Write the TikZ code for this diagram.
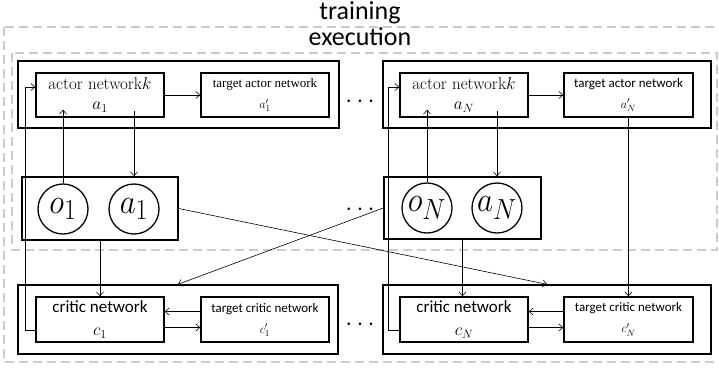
\documentclass[tikz,border=0pt]{standalone}
\usepackage{fontspec}
\newfontfamily\calfont{Carlito}
\newfontfamily\tnrfont{Liberation Serif}
\usetikzlibrary{arrows.meta}
\newcommand{\bigvar}[1]{\scalebox{1.25}[1.4]{$#1$}}

\begin{document}
\begin{tikzpicture}[x=1pt, y=-1pt,
    >={Straight Barb[length=4pt, width=7pt]},
    box/.style={draw, line width=1.4pt, inner sep=0pt},
    net/.style={box, minimum width=128pt, minimum height=44pt, align=center},
    var/.style={draw, circle, line width=1.3pt, minimum size=50pt, inner sep=0pt, font=\fontsize{24.88}{30}\selectfont},
    link/.style={->, line width=0.6pt},
    zone/.style={draw=gray!40, line width=1.3pt, dash pattern=on 9pt off 5pt},
    ellip/.style={anchor=base, font=\fontsize{33}{36}\selectfont},
    heading/.style={anchor=base, font=\calfont\fontsize{26}{30}\selectfont},
    serif17/.style={font=\fontsize{17}{20}\selectfont},
    small13/.style={font=\tnrfont\fontsize{13}{21}\selectfont},
    sans17/.style={font=\calfont\fontsize{17}{23}\selectfont},
    sans13/.style={font=\calfont\fontsize{13}{21}\selectfont}]

    \useasboundingbox (0,0) rectangle (719,368);

    % training / execution areas
    \draw[zone] (4,27) rectangle (724,362);
    \draw[zone] (12,53) rectangle (717,250);
    \node[heading] (trainlbl) at (360,19) {training};
    \node[heading] (execlbl) at (360,45) {execution};

    % actor groups
    \node[box, minimum width=321pt, minimum height=67pt] (agrp1) at (178.5,94.5) {};
    \node[box, minimum width=328pt, minimum height=67pt] (agrpN) at (547,94.5) {};
    \node[net, serif17] (act1) at (100,95) {actor network$k$\\$a_1$};
    \node[net, small13] (tact1) at (265,95) {target actor network\\$a_1'$};
    \node[net, serif17] (actN) at (464,95) {actor network$k$\\$a_N$};
    \node[net, sans13, minimum width=129pt] (tactN) at (628.5,95) {target actor network\\$a_N'$};

    % observation / action
    \node[box, minimum width=156pt, minimum height=63pt] (obs1) at (100,208.5) {};
    \node[box, minimum width=157pt, minimum height=62pt] (obsN) at (462.5,208) {};
    \node[var] (oc1) at (63,209) {\bigvar{o_1}};
    \node[var] (ac1) at (134,209) {\bigvar{a_1}};
    \node[var] (ocN) at (427,208) {\bigvar{o_N}};
    \node[var] (acN) at (497,208) {\bigvar{a_N}};

    % critic groups
    \node[box, minimum width=320pt, minimum height=69pt] (cgrp1) at (178,319.5) {};
    \node[box, minimum width=328pt, minimum height=69pt] (cgrpN) at (547,319.5) {};
    \node[net, sans17, minimum height=45pt] (crit1) at (100,319.5) {critic network\\$c_1$};
    \node[net, sans13, minimum height=45pt] (tcrit1) at (265,319.5) {target critic network\\$c_1'$};
    \node[net, sans17, minimum height=45pt] (critN) at (464,319.5) {critic network\\$c_N$};
    \node[net, sans13, minimum height=45pt, minimum width=129pt] (tcritN) at (628.5,319.5) {target critic network\\$c_N'$};

    % dots between agents
    \node[ellip] (gapA) at (360,107) {$\cdots$};
    \node[ellip] (gapO) at (360,215) {$\cdots$};
    \node[ellip] (gapC) at (360,330) {$\cdots$};

    % actor to target actor
    \draw[link] (act1) -- (tact1);
    \draw[link] (actN) -- (tactN);

    % critic back to actor
    \draw[link] ([yshift=-11pt]crit1.west) -- ++(-10,0) |- ([yshift=8pt]act1.west);
    \draw[link] ([yshift=-11pt]critN.west) -- ++(-11,0) |- ([yshift=8pt]actN.west);

    % observation and action
    \draw[link, shorten >=-8pt] (oc1) -- (oc1 |- act1.south);
    \draw[link, shorten <=-7pt] (ac1 |- act1.south) -- (ac1 |- obs1.north);
    \draw[link, shorten >=-8pt] (ocN) -- (ocN |- actN.south);
    \draw[link, shorten <=-7pt] (acN |- actN.south) -- (acN |- obsN.north);

    % into the critics
    \draw[link] (obs1) -- (crit1);
    \draw[link] (obs1.east) -- (cgrpN.north);
    \draw[link] (obsN.west) -- (cgrp1.north);
    \draw[link] (obsN.south) -- (obsN.south |- critN.north);
    \draw[link] (tactN) -- (tcritN);

    % critic and target critic
    \draw[link] ([yshift=8pt]tcrit1.west) -- ([yshift=8pt]crit1.east);
    \draw[link] ([yshift=-8pt]crit1.east) -- ([yshift=-8pt]tcrit1.west);
    \draw[link] ([yshift=8pt]tcritN.west) -- ([yshift=8pt]critN.east);
    \draw[link] ([yshift=-8pt]critN.east) -- ([yshift=-8pt]tcritN.west);

\end{tikzpicture}
\end{document}
